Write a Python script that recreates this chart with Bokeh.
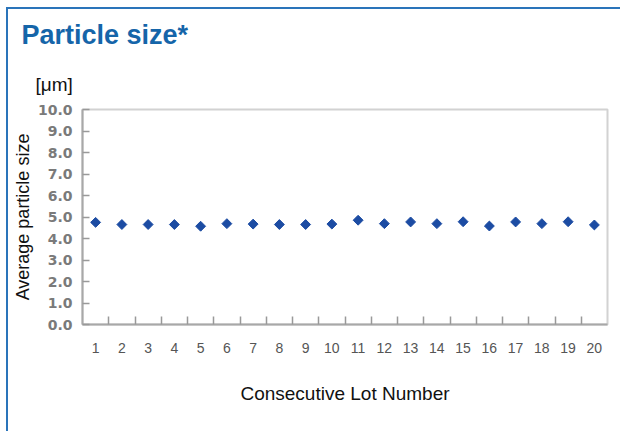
from bokeh.plotting import figure
from bokeh.models import Range1d, FixedTicker, Title
from bokeh.embed import file_html
from bokeh.resources import INLINE
import math

# ---- data ----
lots = [1, 2, 3, 4, 5, 6, 7, 8, 9, 10, 11, 12, 13, 14, 15, 16, 17, 18, 19, 20]
lot_labels = ["1", "2", "3", "4", "5", "6", "7", "8", "9", "10",
              "11", "12", "13", "14", "15", "16", "17", "18", "19", "20"]
particle_size = [4.75, 4.65, 4.65, 4.65, 4.57, 4.69, 4.67, 4.65, 4.65, 4.67,
                 4.85, 4.69, 4.77, 4.69, 4.78, 4.58, 4.77, 4.69, 4.78, 4.63]
y_ticks = [0, 1, 2, 3, 4, 5, 6, 7, 8, 9, 10]
y_tick_labels = ["0.0", "1.0", "2.0", "3.0", "4.0", "5.0", "6.0", "7.0", "8.0", "9.0", "10.0"]
lot_boundaries = [1.5, 2.5, 3.5, 4.5, 5.5, 6.5, 7.5, 8.5, 9.5, 10.5,
                  11.5, 12.5, 13.5, 14.5, 15.5, 16.5, 17.5, 18.5, 19.5]

FONT = "Liberation Sans"
BLUE = "#1565a9"

p = figure(width=614, height=424, output_backend="svg", toolbar_location=None,
           x_range=Range1d(0.5, 20.5), y_range=Range1d(0, 10),
           min_border_left=74, min_border_right=15, min_border_top=100, min_border_bottom=109)

p.styles = {"border-top": "2px solid #2a74ba", "border-left": "2px solid #2a74ba",
            "margin-left": "6px", "margin-top": "7px"}

p.title.text = "Particle size*"
p.title.text_font = FONT
p.title.text_font_size = "27px"
p.title.text_font_style = "bold"
p.title.text_color = BLUE
p.title.align = "left"
p.title.offset = -61
p.title.standoff = 15

unit = Title(text="[μm]", text_font=FONT, text_font_size="19px", text_font_style="normal",
             text_color="#111111", align="left", offset=-47, standoff=29)
p.add_layout(unit, "above")

p.xgrid.visible = False
p.ygrid.visible = False
p.outline_line_color = "#d2d2d2"
p.outline_line_width = 2
p.background_fill_color = "white"
p.border_fill_color = "white"

# x axis
xa = p.xaxis[0]
xa.ticker = FixedTicker(ticks=lots, minor_ticks=lot_boundaries)
xa.major_label_overrides = {v: s for v, s in zip(lots, lot_labels)}
xa.major_tick_in = 0
xa.major_tick_out = 0
xa.minor_tick_in = 8
xa.minor_tick_out = 0
xa.minor_tick_line_color = "#999999"
xa.minor_tick_line_width = 1.5
xa.axis_line_color = "#a8a8a8"
xa.axis_line_width = 2
xa.major_label_text_font = FONT
xa.major_label_text_font_size = "14px"
xa.major_label_text_color = "#555555"
xa.major_label_standoff = 18
xa.axis_label = "Consecutive Lot Number"
xa.axis_label_text_font = FONT
xa.axis_label_text_font_size = "19px"
xa.axis_label_text_font_style = "normal"
xa.axis_label_text_color = "#111111"
xa.axis_label_standoff = 27

# y axis
ya = p.yaxis[0]
ya.ticker = FixedTicker(ticks=y_ticks)
ya.major_label_overrides = {v: s for v, s in zip(y_ticks, y_tick_labels)}
ya.major_tick_in = 7
ya.major_tick_out = 0
ya.minor_tick_in = 0
ya.minor_tick_out = 0
ya.major_tick_line_color = "#999999"
ya.major_tick_line_width = 1.5
ya.axis_line_color = "#a8a8a8"
ya.axis_line_width = 2
ya.major_label_text_font = "DejaVu Sans"
ya.major_label_text_font_size = "14px"
ya.major_label_text_font_style = "bold"
ya.major_label_text_color = "#7a7a7a"
ya.major_label_standoff = 10
ya.axis_label = "Average particle size"
ya.axis_label_text_font = FONT
ya.axis_label_text_font_size = "18px"
ya.axis_label_text_font_style = "normal"
ya.axis_label_text_color = "#111111"
ya.axis_label_standoff = 2

p.scatter(lots, particle_size, marker="square", size=7, angle=math.pi / 4,
          fill_color="#1c4ca3", line_color="#1c4ca3")

open("out.html", "w").write(file_html(p, INLINE))
